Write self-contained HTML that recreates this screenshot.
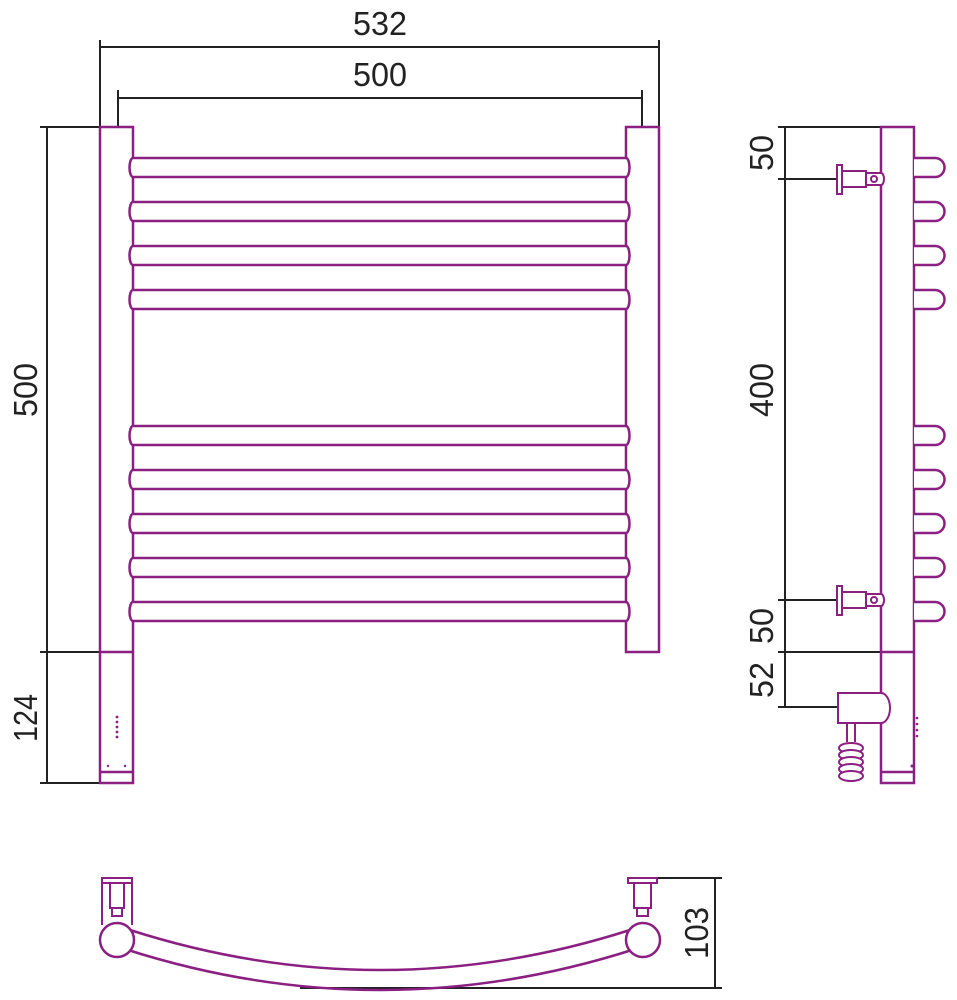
<!DOCTYPE html>
<html><head><meta charset="utf-8"><style>
html,body{margin:0;padding:0;background:#fff;}
svg{display:block;}
text{font-family:"Liberation Sans Narrow","Liberation Sans",sans-serif;font-size:33px;fill:#222;}
</style></head><body>
<svg width="957" height="1000" viewBox="0 0 957 1000" xmlns="http://www.w3.org/2000/svg">
<g stroke="#222" stroke-width="2" fill="none">
<line x1="100" y1="47" x2="660" y2="47"/>
<line x1="100" y1="40" x2="100" y2="127"/>
<line x1="659" y1="40" x2="659" y2="127"/>
<line x1="118" y1="98" x2="643" y2="98"/>
<line x1="118" y1="90" x2="118" y2="127"/>
<line x1="642" y1="90" x2="642" y2="127"/>
<line x1="47" y1="127" x2="47" y2="783"/>
<line x1="40" y1="127" x2="100" y2="127"/>
<line x1="40" y1="652" x2="100" y2="652"/>
<line x1="40" y1="783" x2="100" y2="783"/>
<line x1="785" y1="127" x2="785" y2="707"/>
<line x1="778" y1="127" x2="881" y2="127"/>
<line x1="778" y1="179" x2="840" y2="179"/>
<line x1="778" y1="600" x2="840" y2="600"/>
<line x1="778" y1="652" x2="881" y2="652"/>
<line x1="778" y1="707" x2="838" y2="707"/>
<line x1="715" y1="878" x2="715" y2="988"/>
<line x1="657" y1="878" x2="722" y2="878"/>
<line x1="300" y1="988" x2="722" y2="988"/>
</g>
<text x="380" y="35" text-anchor="middle" textLength="54" lengthAdjust="spacingAndGlyphs">532</text>
<text x="380" y="86" text-anchor="middle" textLength="54" lengthAdjust="spacingAndGlyphs">500</text>
<text transform="translate(37,390) rotate(-90)" text-anchor="middle" textLength="54" lengthAdjust="spacingAndGlyphs">500</text>
<text transform="translate(37,718) rotate(-90)" text-anchor="middle" textLength="48" lengthAdjust="spacingAndGlyphs">124</text>
<text transform="translate(773,153) rotate(-90)" text-anchor="middle" textLength="36" lengthAdjust="spacingAndGlyphs">50</text>
<text transform="translate(773,390) rotate(-90)" text-anchor="middle" textLength="54" lengthAdjust="spacingAndGlyphs">400</text>
<text transform="translate(773,626) rotate(-90)" text-anchor="middle" textLength="36" lengthAdjust="spacingAndGlyphs">50</text>
<text transform="translate(773,680) rotate(-90)" text-anchor="middle" textLength="36" lengthAdjust="spacingAndGlyphs">52</text>
<text transform="translate(708,933) rotate(-90)" text-anchor="middle" textLength="52" lengthAdjust="spacingAndGlyphs">103</text>

<g stroke="#8b1f82" stroke-width="2.5" fill="#fff">
<rect x="100" y="127" width="33" height="656"/>
<line x1="100" y1="652" x2="133" y2="652"/>
<line x1="100" y1="772" x2="133" y2="772"/>
<rect x="626" y="127" width="33" height="525"/>
<path d="M133 158 H626 A3.5 9.5 0 0 1 626 177 H133 A3.5 9.5 0 0 1 133 158 Z"/>
<path d="M133 202 H626 A3.5 9.5 0 0 1 626 221 H133 A3.5 9.5 0 0 1 133 202 Z"/>
<path d="M133 246 H626 A3.5 9.5 0 0 1 626 265 H133 A3.5 9.5 0 0 1 133 246 Z"/>
<path d="M133 290 H626 A3.5 9.5 0 0 1 626 309 H133 A3.5 9.5 0 0 1 133 290 Z"/>
<path d="M133 426 H626 A3.5 9.5 0 0 1 626 445 H133 A3.5 9.5 0 0 1 133 426 Z"/>
<path d="M133 470 H626 A3.5 9.5 0 0 1 626 489 H133 A3.5 9.5 0 0 1 133 470 Z"/>
<path d="M133 514 H626 A3.5 9.5 0 0 1 626 533 H133 A3.5 9.5 0 0 1 133 514 Z"/>
<path d="M133 558 H626 A3.5 9.5 0 0 1 626 577 H133 A3.5 9.5 0 0 1 133 558 Z"/>
<path d="M133 602 H626 A3.5 9.5 0 0 1 626 621 H133 A3.5 9.5 0 0 1 133 602 Z"/>
<rect x="881" y="127" width="33" height="656"/>
<line x1="881" y1="652" x2="914" y2="652"/>
<line x1="881" y1="772" x2="914" y2="772"/>
<path d="M914 158 H935 A9.5 9.5 0 0 1 935 177 H914"/>
<path d="M914 202 H935 A9.5 9.5 0 0 1 935 221 H914"/>
<path d="M914 246 H935 A9.5 9.5 0 0 1 935 265 H914"/>
<path d="M914 290 H935 A9.5 9.5 0 0 1 935 309 H914"/>
<path d="M914 426 H935 A9.5 9.5 0 0 1 935 445 H914"/>
<path d="M914 470 H935 A9.5 9.5 0 0 1 935 489 H914"/>
<path d="M914 514 H935 A9.5 9.5 0 0 1 935 533 H914"/>
<path d="M914 558 H935 A9.5 9.5 0 0 1 935 577 H914"/>
<path d="M914 602 H935 A9.5 9.5 0 0 1 935 621 H914"/>
<g stroke-width="2">
<rect x="837" y="165" width="5" height="29"/>
<rect x="842" y="171" width="24" height="16"/>
<path d="M866 173 H881 A3 6 0 0 1 881 185 H866 Z"/>
<circle cx="874" cy="179" r="3"/>
<rect x="837" y="586" width="5" height="29"/>
<rect x="842" y="592" width="24" height="16"/>
<path d="M866 594 H881 A3 6 0 0 1 881 606 H866 Z"/>
<circle cx="874" cy="600" r="3"/>
<path d="M838 693 H881 A9 15 0 0 1 881 723 H838 Z"/>
<path d="M847 723 V742 M855 723 V742"/>
<ellipse cx="851" cy="748" rx="12" ry="5"/>
<ellipse cx="851" cy="755" rx="12" ry="5"/>
<ellipse cx="851" cy="762" rx="12" ry="5"/>
<ellipse cx="851" cy="769" rx="12" ry="5"/>
<ellipse cx="851" cy="776" rx="12" ry="5"/>
</g>
<path d="M130 930 Q380 1010 630 930" fill="none"/>
<path d="M128 950 Q380 1030 632 950" fill="none"/>
<g stroke-width="2">
<rect x="102" y="878" width="30" height="5"/>
<line x1="102" y1="883" x2="102" y2="925"/>
<line x1="132" y1="883" x2="132" y2="925"/>
<rect x="110" y="883" width="14" height="25"/>
<rect x="112" y="908" width="10" height="8"/>
<rect x="628" y="878" width="29" height="5"/>
<rect x="634" y="883" width="17" height="25"/>
<rect x="637" y="908" width="11" height="8"/>
</g>
<circle cx="117" cy="940" r="17"/>
<circle cx="643" cy="940" r="17"/>
</g>
<g fill="#8b1f82">
<circle cx="117" cy="717" r="1.4"/><circle cx="117" cy="722" r="1.4"/><circle cx="117" cy="727" r="1.4"/><circle cx="117" cy="732" r="1.4"/><circle cx="117" cy="737" r="1.4"/>
<circle cx="108" cy="766" r="1.2"/><circle cx="125" cy="766" r="1.2"/>
<circle cx="917" cy="718" r="1.3"/><circle cx="917" cy="724" r="1.3"/><circle cx="917" cy="730" r="1.3"/><circle cx="917" cy="736" r="1.3"/>
<circle cx="912" cy="766" r="1.5"/>
</g>
</svg>
</body></html>
